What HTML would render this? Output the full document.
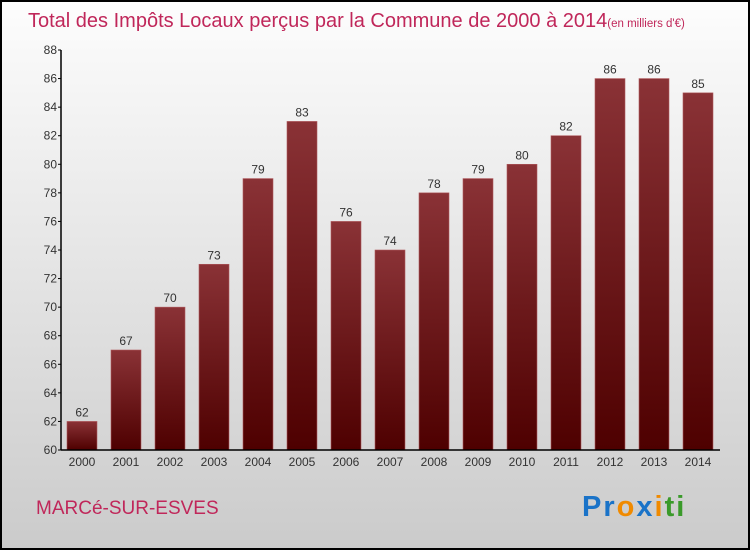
<!DOCTYPE html>
<html><head><meta charset="utf-8"><style>
body{margin:0;width:750px;height:550px;overflow:hidden;font-family:"Liberation Sans",sans-serif;}
</style></head><body>
<svg width="750" height="550" xmlns="http://www.w3.org/2000/svg">
<defs>
<linearGradient id="bg" x1="0" y1="0" x2="0" y2="1"><stop offset="0" stop-color="#fdfdfd"/><stop offset="1" stop-color="#cbcbcb"/></linearGradient>
<linearGradient id="bar" x1="0" y1="0" x2="0" y2="1"><stop offset="0" stop-color="#8a3236"/><stop offset="1" stop-color="#4e0000"/></linearGradient>
</defs>
<rect x="1" y="1" width="748" height="548" fill="url(#bg)" stroke="#000" stroke-width="2"/>
<text x="28" y="27" font-size="20" fill="#c0275a">Total des Impôts Locaux perçus par la Commune de 2000 à 2014<tspan font-size="11.5">(en milliers d'€)</tspan></text>
<g id="plot"></g>
<text x="36" y="514" font-size="19" fill="#c0275a">MARCé-SUR-ESVES</text>
<text x="582" y="516" font-size="29" font-weight="bold" letter-spacing="2"><tspan fill="#1a73c8">Pr</tspan><tspan fill="#f08a00">o</tspan><tspan fill="#1a73c8">x</tspan><tspan fill="#f08a00">i</tspan><tspan fill="#3a9a2a">ti</tspan></text>
</svg>
<script>
const categories=["2000","2001","2002","2003","2004","2005","2006","2007","2008","2009","2010","2011","2012","2013","2014"];
const values=[62,67,70,73,79,83,76,74,78,79,80,82,86,86,85];
const yTicks=[60,62,64,66,68,70,72,74,76,78,80,82,84,86,88];
const NS="http://www.w3.org/2000/svg";
const g=document.getElementById('plot');
const y0=450,y1=50,vmin=60,vmax=88,x0=61,x1=720;
function yS(v){return y0-(v-vmin)/(vmax-vmin)*(y0-y1);}
function xS(i){return 82+i*44;}
function mk(t,a){const e=document.createElementNS(NS,t);for(const k in a)e.setAttribute(k,a[k]);g.appendChild(e);return e;}
categories.forEach((c,i)=>{
  const r=mk('rect',{x:xS(i)-15,y:yS(values[i]),width:30,height:y0-yS(values[i]),fill:'url(#bar)',stroke:'#b05a5e','stroke-width':0.6});
  
  
  const t=mk('text',{x:xS(i),y:yS(values[i])-5,'font-size':12,fill:'#333','text-anchor':'middle'});
  t.textContent=values[i];
  
  
  const xl=mk('text',{x:xS(i),y:466,'font-size':12,fill:'#333','text-anchor':'middle'});
  xl.textContent=c;
  
  
});
yTicks.forEach(v=>{
  const l=mk('line',{x1:x0-3,x2:x0,y1:yS(v),y2:yS(v),stroke:'#000'});
  
  
  const t=mk('text',{x:x0-4,y:yS(v)+4,'font-size':12,fill:'#333','text-anchor':'end'});
  t.textContent=v;
  
  
});
const ya=mk('line',{x1:x0,x2:x0,y1:y1,y2:y0,stroke:'#000','stroke-width':1.5});


const xa=mk('line',{x1:x0,x2:x1,y1:y0,y2:y0,stroke:'#000','stroke-width':1.5});


</script>
</body></html>
